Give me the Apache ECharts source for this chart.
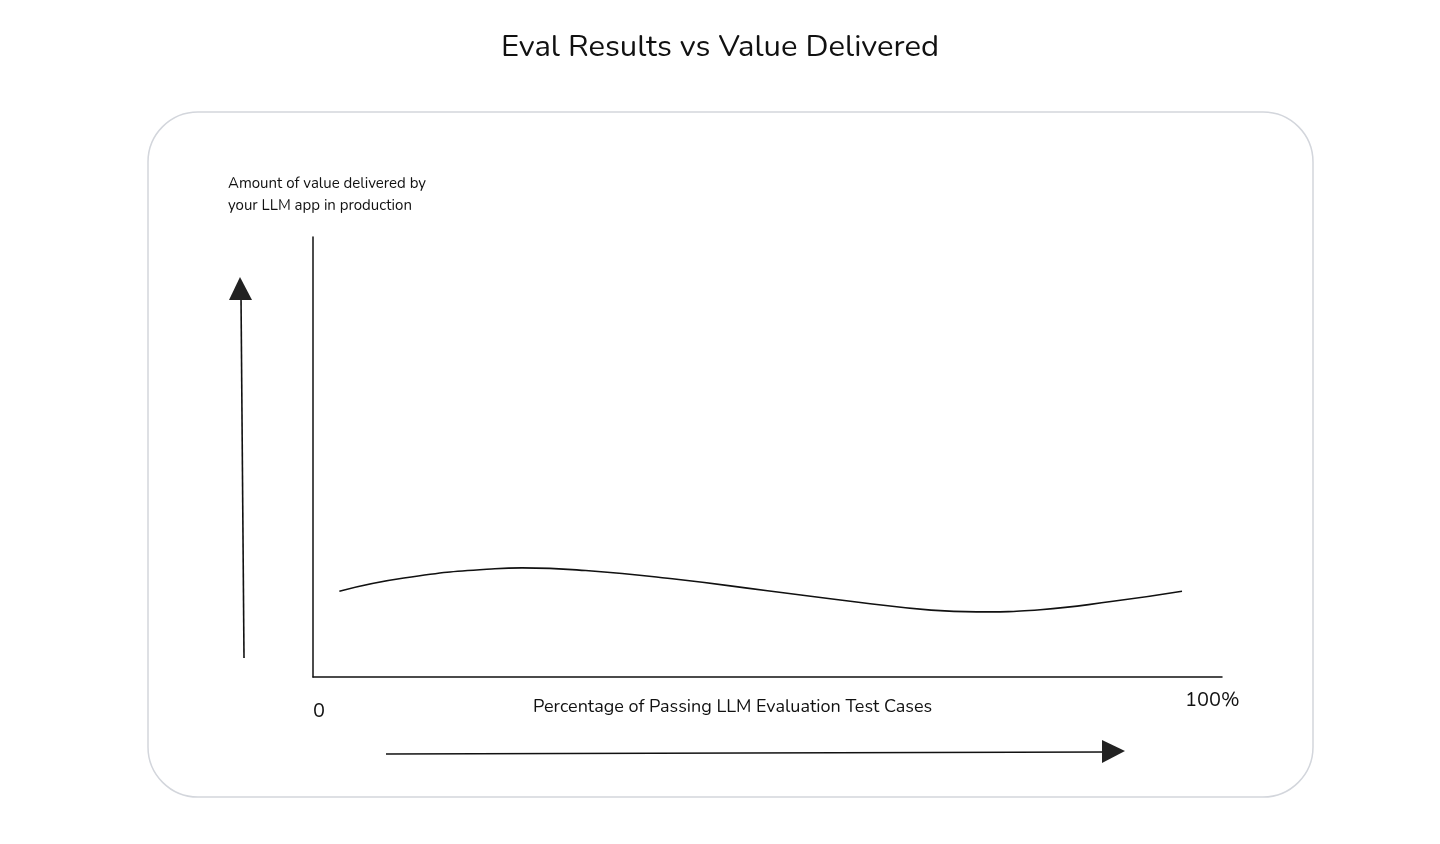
<!DOCTYPE html>
<html><head><meta charset="utf-8">
<script src="https://cdn.jsdelivr.net/npm/echarts@6/dist/echarts.min.js"></script>
<style>html,body{margin:0;padding:0;background:#fff}#c{width:1440px;height:844px}</style>
</head><body><div id="c"></div>
<script>
const xValues = [2.9, 10, 20, 23, 30, 40, 50, 60, 68, 73, 80, 88, 95.6];
const yValues = [19.5, 22.5, 24.6, 24.8, 24.2, 22.2, 19.6, 17.0, 15.2, 14.8, 15.3, 17.2, 19.5];
const title = 'Eval Results vs Value Delivered';
const xLabel = 'Percentage of Passing LLM Evaluation Test Cases';
const yLabel = 'Amount of value delivered by\nyour LLM app in production';
const font = 'Nunito, Lato, "Noto Sans", sans-serif';
const chart = echarts.init(document.getElementById('c'));
chart.setOption({
  animation: false,
  title: {text: title, left: 'center', top: 28, textStyle: {fontFamily: font, fontSize: 31, fontWeight: 'normal', color: '#111'}},
  grid: {left: 313, top: 237, width: 909, height: 440},
  xAxis: {type: 'value', min: 0, max: 100, axisLine: {lineStyle: {color: '#111', width: 1.5}}, axisTick: {show: false}, axisLabel: {show: false}, splitLine: {show: false}},
  yAxis: {type: 'value', min: 0, max: 100, axisLine: {show: true, lineStyle: {color: '#111', width: 1.5}}, axisTick: {show: false}, axisLabel: {show: false}, splitLine: {show: false}},
  series: [{type: 'line', smooth: true, symbol: 'none', data: xValues.map((x, i) => [x, yValues[i]]), lineStyle: {color: '#111', width: 1.6}}],
  graphic: [
    {type: 'rect', shape: {x: 148, y: 112, width: 1165, height: 685, r: 50}, style: {fill: 'none', stroke: '#d3d6dc', lineWidth: 1.5}, z: -1},
    {type: 'text', left: 228, top: 173, style: {text: yLabel, font: '15px ' + font, fill: '#111', lineHeight: 22}},
    {type: 'text', left: 313, top: 702, style: {text: '0', font: '20px ' + font, fill: '#111'}},
    {type: 'text', left: 1185, top: 691, style: {text: '100%', font: '20px ' + font, fill: '#111'}},
    {type: 'text', left: 533, top: 699, style: {text: xLabel, font: '18px ' + font, fill: '#111'}},
    {type: 'line', shape: {x1: 244, y1: 658, x2: 241, y2: 296}, style: {stroke: '#111', lineWidth: 1.6}},
    {type: 'polygon', shape: {points: [[240, 277], [229, 300], [252, 300]]}, style: {fill: '#222'}},
    {type: 'line', shape: {x1: 386, y1: 754, x2: 1105, y2: 752}, style: {stroke: '#111', lineWidth: 1.6}},
    {type: 'polygon', shape: {points: [[1125, 751], [1102, 740], [1102, 763]]}, style: {fill: '#222'}}
  ]
});
</script></body></html>
